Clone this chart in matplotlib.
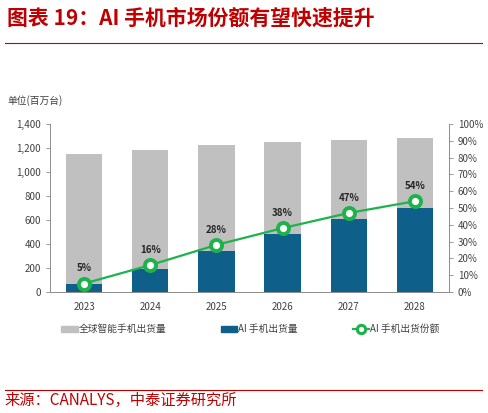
import matplotlib
matplotlib.use("Agg")
import matplotlib.pyplot as plt
from matplotlib.lines import Line2D
import matplotlib.patches as mpatches
import numpy as np

plt.rcParams['font.family'] = ['Noto Sans CJK SC', 'DejaVu Sans']

years = ["2023", "2024", "2025", "2026", "2027", "2028"]
total_shipments = [1146, 1182, 1221, 1249, 1266, 1280]
ai_shipments = [64, 188, 344, 484, 604, 702]
ai_share = [5, 16, 28, 38, 47, 54]
share_labels = ["5%", "16%", "28%", "38%", "47%", "54%"]

GRAY = "#c0c0c0"
BLUE = "#0e5f8a"
GREEN = "#1db34a"
RED = "#c00000"
SPINE = "#8c8c8c"

fig = plt.figure(figsize=(4.88, 4.13), dpi=100)
fig.patch.set_facecolor("white")

ax = fig.add_axes([0.1025, 0.293, 0.8175, 0.407])
x = np.arange(len(years))
ax.bar(x, total_shipments, width=0.55, color=GRAY, zorder=2)
ax.bar(x, ai_shipments, width=0.55, color=BLUE, zorder=3)
ax.set_xlim(-0.515, len(years) - 0.485)
ax.set_ylim(0, 1400)
ax.set_yticks(range(0, 1401, 200))
ax.set_yticklabels([f"{v:,}" for v in range(0, 1401, 200)])
ax.set_xticks(x)
ax.set_xticklabels(years)
ax.tick_params(axis="y", labelsize=7, colors="#404040", length=3, color=SPINE, width=0.6)
ax.tick_params(axis="x", labelsize=7, colors="#404040", length=0, pad=7)
for s in ["top", "right"]:
    ax.spines[s].set_visible(False)
for s in ["left", "bottom"]:
    ax.spines[s].set_color(SPINE)
    ax.spines[s].set_linewidth(0.7)

ax2 = ax.twinx()
ax2.plot(x, ai_share, color=GREEN, linewidth=1.6, marker="o", markersize=8,
         markerfacecolor="white", markeredgecolor=GREEN, markeredgewidth=2.8, zorder=5)
for xi, yi, lbl in zip(x, ai_share, share_labels):
    ax2.annotate(lbl, xy=(xi, yi), xytext=(0, 7.5), textcoords="offset points",
                 ha="center", va="bottom", fontsize=7, fontweight="bold", color="#262626")
ax2.set_ylim(0, 100)
ax2.set_yticks(range(0, 101, 10))
ax2.set_yticklabels([f"{v}%" for v in range(0, 101, 10)])
ax2.tick_params(axis="y", labelsize=7, colors="#404040", length=3, color=SPINE, width=0.6)
for s in ["top", "left", "bottom"]:
    ax2.spines[s].set_visible(False)
ax2.spines["right"].set_color(SPINE)
ax2.spines["right"].set_linewidth(0.7)

fig.text(0.016, 0.757, "单位(百万台)", fontsize=7, color="#404040", va="center")

# Legend
handles = [
    mpatches.Patch(color=GRAY, label="全球智能手机出货量"),
    mpatches.Patch(color=BLUE, label="AI 手机出货量"),
    Line2D([0], [0], color=GREEN, linewidth=1.6, marker="o", markersize=6,
           markerfacecolor="white", markeredgecolor=GREEN, markeredgewidth=2.2,
           label="AI 手机出货份额"),
]
fig.legend(handles=handles, loc="center", bbox_to_anchor=(0.513, 0.203), ncol=3,
           frameon=False, fontsize=7, handlelength=1.7, handleheight=0.6,
           handletextpad=0.1, columnspacing=5.6, labelcolor="#404040")

# Title and decorations
fig.text(0.014, 0.956, "图表 19：AI 手机市场份额有望快速提升", fontsize=15,
         fontweight="bold", color=RED, va="center", ha="left")
fig.add_artist(Line2D([0.01, 0.988], [0.896, 0.896], color=RED, linewidth=0.8))
fig.add_artist(Line2D([0.01, 0.988], [0.056, 0.056], color=RED, linewidth=0.8))
fig.text(0.01, 0.031, "来源：CANALYS，中泰证券研究所", fontsize=11,
         color=RED, va="center", ha="left")

fig.savefig("out.png", dpi=100, facecolor="white")
